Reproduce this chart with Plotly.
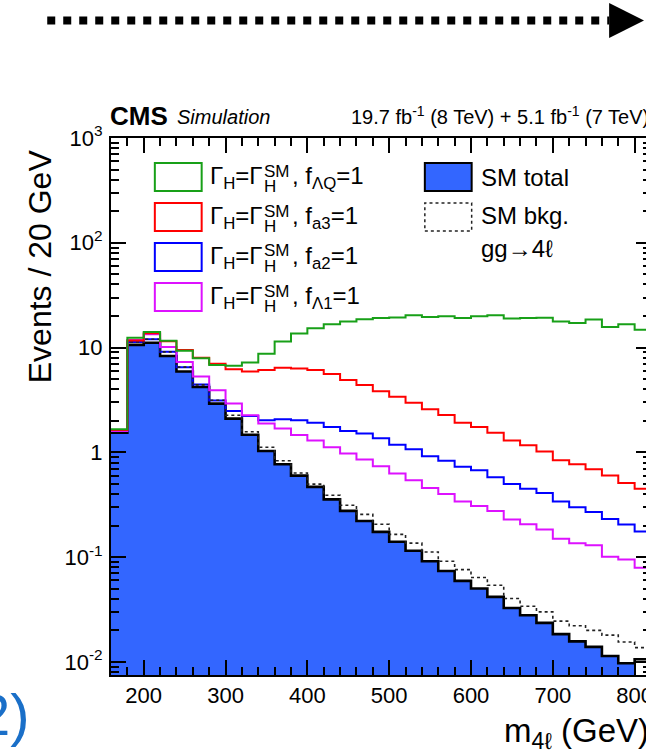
import numpy as np
import plotly.graph_objects as go

# ---------------- data ----------------
bin_low = list(range(160, 820, 20))          # lower edges of the 20 GeV bins
bin_last_edge = 820

sm_total = [1.54, 10.6, 11.1, 8.3, 5.9, 4.2, 2.92, 2.10, 1.47, 1.03, 0.77, 0.60,
            0.468, 0.356, 0.276, 0.221, 0.174, 0.140, 0.115, 0.0914, 0.0738, 0.0593, 0.0501, 0.0417,
            0.0327, 0.0279, 0.0236, 0.0184, 0.0157, 0.0139, 0.0114, 0.0097, 0.0106]
sm_bkg = [1.60, 11.3, 12.0, 9.1, 6.5, 4.4, 3.14, 2.26, 1.57, 1.12, 0.83, 0.636,
          0.497, 0.390, 0.313, 0.256, 0.206, 0.165, 0.136, 0.112, 0.0914, 0.076, 0.0638, 0.0539,
          0.0403, 0.034, 0.030, 0.0245, 0.0221, 0.020, 0.0180, 0.0155, 0.0137]
f_LQ = [1.66, 12.4, 14.1, 11.6, 9.3, 7.9, 6.8, 6.7, 7.2, 8.75, 11.4, 13.6,
        15.3, 16.7, 17.7, 18.6, 19.2, 19.4, 20.3, 19.6, 19.9, 19.1, 19.9, 20.3,
        18.9, 19.1, 19.3, 17.7, 17.2, 18.5, 15.7, 16.7, 14.8]
f_a3 = [1.63, 11.7, 13.7, 11.5, 9.5, 8.0, 7.0, 6.2, 5.9, 6.1, 6.4, 6.3,
        6.1, 5.6, 4.9, 4.4, 3.82, 3.4, 2.98, 2.58, 2.27, 1.92, 1.75, 1.54,
        1.30, 1.17, 1.02, 0.84, 0.77, 0.69, 0.60, 0.51, 0.45]
f_a2 = [1.60, 11.3, 12.0, 9.1, 6.5, 4.45, 3.12, 2.48, 2.22, 2.02, 2.07, 2.02,
        1.92, 1.75, 1.60, 1.51, 1.36, 1.18, 1.07, 0.92, 0.83, 0.73, 0.675, 0.58,
        0.50, 0.45, 0.41, 0.34, 0.30, 0.27, 0.231, 0.205, 0.176]
f_L1 = [1.60, 11.8, 13.4, 10.1, 7.3, 5.3, 3.92, 2.92, 2.26, 1.88, 1.69, 1.46,
        1.30, 1.12, 0.975, 0.853, 0.735, 0.628, 0.542, 0.457, 0.40, 0.34, 0.307, 0.276,
        0.229, 0.206, 0.183, 0.150, 0.136, 0.130, 0.101, 0.095, 0.079]

x_tick_vals = [200, 300, 400, 500, 600, 700, 800]
x_tick_text = ["200", "300", "400", "500", "600", "700", "800"]
y_tick_vals = [0.01, 0.1, 1, 10, 100, 1000]
y_tick_text = ["10<sup>-2</sup>", "10<sup>-1</sup>", "1", "10", "10<sup>2</sup>", "10<sup>3</sup>"]

signal_labels = ["ΛQ", "a3", "a2", "Λ1"]
signal_colors = ["#18a018", "#ff0000", "#0000ff", "#dd11ff"]

# ---------------- geometry ----------------
FW, FH = 653, 754
ML, MT, MB = 111, 138, 79
PW, PH = FW - ML, FH - MT - MB
FONT = "Liberation Sans, Arial, Helvetica, sans-serif"
FILL_BLUE = "#3366ff"


def px(x):
    return (x - ML) / PW


def py(y):
    return (MT + PH - y) / PH


edges = bin_low + [bin_last_edge]


def step_y(vals):
    return list(vals) + [vals[-1]]


fig = go.Figure()

# blue filled SM total (fill stops at 800 GeV)
n_fill = bin_low.index(780) + 1
floor = 1e-4
xf = [bin_low[0]] + bin_low[:n_fill] + [800, 800]
yf = [floor] + sm_total[:n_fill] + [sm_total[n_fill - 1], floor]
fig.add_trace(go.Scatter(x=xf, y=yf, mode="lines", line=dict(shape="hv", width=0, color=FILL_BLUE),
                         fill="toself", fillcolor=FILL_BLUE, hoverinfo="skip", showlegend=False))
# outline
fig.add_trace(go.Scatter(x=edges, y=step_y(sm_total), mode="lines",
                         line=dict(shape="hv", width=2.6, color="black"), showlegend=False))
# signals
fig.add_trace(go.Scatter(x=edges, y=step_y(f_a2), mode="lines",
                         line=dict(shape="hv", width=2, color=signal_colors[2]), showlegend=False))
fig.add_trace(go.Scatter(x=edges, y=step_y(sm_bkg), mode="lines",
                         line=dict(shape="hv", width=1.6, color="#222222", dash="dot"), showlegend=False))
for vals, col in [(f_L1, signal_colors[3]), (f_a3, signal_colors[1]), (f_LQ, signal_colors[0])]:
    fig.add_trace(go.Scatter(x=edges, y=step_y(vals), mode="lines",
                             line=dict(shape="hv", width=2, color=col), showlegend=False))

y_minor = [m * 10.0 ** e for e in range(-3, 3) for m in range(2, 10)
           if 10 ** -2.125 <= m * 10.0 ** e <= 1000]

fig.update_xaxes(range=[160, 820], showline=True, linecolor="black", linewidth=2, mirror="ticks",
                 ticks="inside", ticklen=15, tickwidth=1.5, tickcolor="black",
                 tickmode="array", tickvals=x_tick_vals, ticktext=x_tick_text,
                 tickfont=dict(family=FONT, size=22, color="black"),
                 minor=dict(ticks="inside", ticklen=8, tickwidth=1.5, tickcolor="black",
                            dtick=20, tick0=160, showgrid=False),
                 showgrid=False, zeroline=False)
fig.update_yaxes(type="log", range=[-2.125, 3], showline=True, linecolor="black", linewidth=2,
                 mirror="ticks", ticks="inside", ticklen=15, tickwidth=1.5, tickcolor="black",
                 tickmode="array", tickvals=y_tick_vals, ticktext=y_tick_text,
                 tickfont=dict(family=FONT, size=22, color="black"), ticklabelstandoff=2,
                 minor=dict(ticks="inside", ticklen=8, tickwidth=1.5, tickcolor="black",
                            tickmode="array", tickvals=y_minor, showgrid=False),
                 showgrid=False, zeroline=False)

ann = []
shapes = []


def text(x, y, s, size, xanchor="left", yanchor="middle", color="black", **kw):
    ann.append(dict(x=px(x), y=py(y), xref="paper", yref="paper", text=s, showarrow=False,
                    xanchor=xanchor, yanchor=yanchor, borderpad=0,
                    font=dict(family=FONT, size=size, color=color), **kw))


# titles
text(40, 266, "Events / 20 GeV", 32, xanchor="center", textangle=-90)
text(652, 733, "m<sub>4ℓ</sub> (GeV)", 33, xanchor="right")
text(109, 116, "<b>CMS</b>", 26)
text(176, 117, "<i>Simulation</i>", 20)
text(652, 116, "19.7 fb<sup>-1</sup> (8 TeV) + 5.1 fb<sup>-1</sup> (7 TeV)", 20, xanchor="right")

# left legend
for i, (lab, col) in enumerate(zip(signal_labels, signal_colors)):
    yc = 177 + 40 * i
    shapes.append(dict(type="rect", xref="paper", yref="paper", x0=px(155), x1=px(202),
                       y0=py(yc - 14), y1=py(yc + 14), line=dict(color=col, width=2),
                       fillcolor="white"))
    text(209, yc, "Γ<sub>H</sub>=Γ", 24)
    text(264, yc - 6, "SM", 17)
    text(264, yc + 9, "H", 17)
    text(292, yc, ", f<sub>" + lab + "</sub>=1", 24)

# right legend
shapes.append(dict(type="rect", xref="paper", yref="paper", x0=px(426), x1=px(473),
                   y0=py(191), y1=py(163), line=dict(color="black", width=2), fillcolor=FILL_BLUE))
shapes.append(dict(type="rect", xref="paper", yref="paper", x0=px(426), x1=px(473),
                   y0=py(231), y1=py(203), line=dict(color="#222222", width=1.5, dash="dot"),
                   fillcolor="white"))
text(481, 177, "SM total", 24)
text(481, 216, "SM bkg.", 24)
text(481, 249, "gg→4ℓ", 24)

# dotted arrow at the top of the slide
shapes.append(dict(type="line", xref="paper", yref="paper", x0=px(47), x1=px(611),
                   y0=py(20.5), y1=py(20.5), line=dict(color="black", width=8, dash="dot")))
shapes.append(dict(type="path", xref="paper", yref="paper",
                   path=f"M {px(611)},{py(3)} L {px(646)},{py(20.5)} L {px(611)},{py(38)} Z",
                   fillcolor="black", line=dict(color="black", width=0)))

# fragment of slide text bottom-left
text(31, 714, "2)", 58, xanchor="right", color="#1a6fc8")

fig.update_layout(width=FW, height=FH, margin=dict(l=ML, r=0, t=MT, b=MB, pad=0),
                  plot_bgcolor="white", paper_bgcolor="white", showlegend=False,
                  annotations=ann, shapes=shapes, font=dict(family=FONT, color="black"))

fig.write_html("out.html", post_script=(
    "document.documentElement.style.overflow='hidden';"
    "document.body.style.overflow='hidden';document.body.style.margin='0';"))
